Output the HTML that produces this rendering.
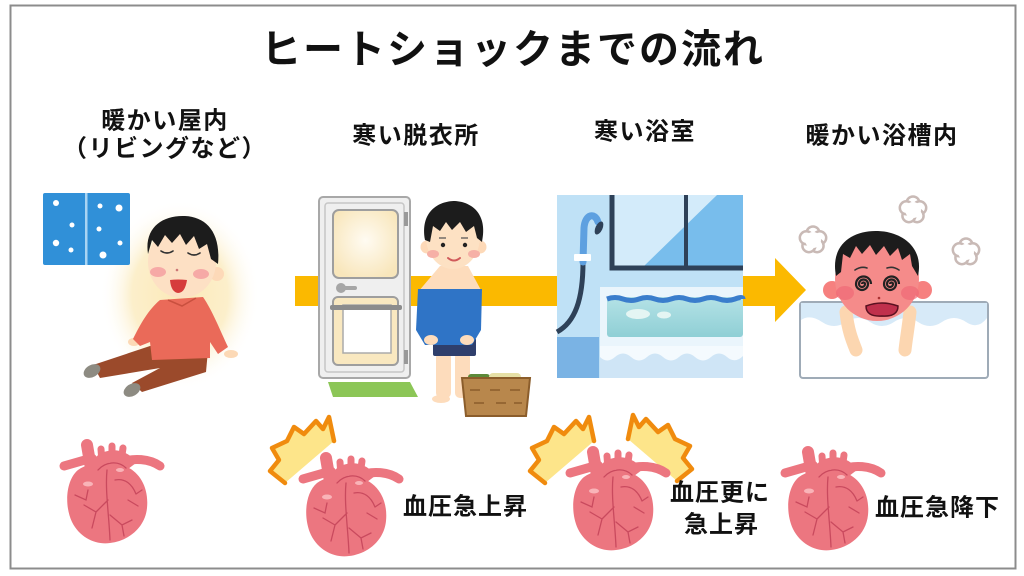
<!DOCTYPE html>
<html lang="ja">
<head>
<meta charset="utf-8">
<style>
  html, body { margin:0; padding:0; background:#fff; }
  svg { display:block; }
  .t { font-family:"Liberation Sans","Noto Sans CJK JP",sans-serif; font-weight:700; fill:#111; }
</style>
</head>
<body>
<svg width="1024" height="576" viewBox="0 0 1024 576" xmlns="http://www.w3.org/2000/svg">
  <defs>
    <radialGradient id="glow" cx="50%" cy="50%" r="50%">
      <stop offset="0" stop-color="#fbe9b8"/>
      <stop offset="0.6" stop-color="#fcefcb"/>
      <stop offset="1" stop-color="#ffffff" stop-opacity="0"/>
    </radialGradient>
    <radialGradient id="cream" cx="50%" cy="45%" r="60%">
      <stop offset="0" stop-color="#fffbf2"/>
      <stop offset="1" stop-color="#f8e6bb"/>
    </radialGradient>
    <linearGradient id="water" x1="0" y1="0" x2="0" y2="1">
      <stop offset="0" stop-color="#b4e2e6"/>
      <stop offset="1" stop-color="#8fcfd5"/>
    </linearGradient>
    <g id="heart">
      <path d="M64 466 L92 458" stroke="#ec7680" stroke-width="9" stroke-linecap="round" fill="none"/>
      <path d="M118 463 C134 457 150 459 160 466" stroke="#ec7680" stroke-width="9" stroke-linecap="round" fill="none"/>
      <path d="M87 445 L93 480" stroke="#ec7680" stroke-width="12" stroke-linecap="round" fill="none"/>
      <path d="M101 449 L102 463 M112 446 L112 460 M123 448 L121 462" stroke="#ec7680" stroke-width="7" stroke-linecap="round" fill="none"/>
      <path d="M93 472 C98 455 120 450 132 466" stroke="#ec7680" stroke-width="12" fill="none"/>
      <path d="M78 470 C66 480 64 505 72 522 C80 538 96 545 110 543 C128 541 145 528 147 508 C149 488 140 472 125 466 C112 462 92 460 78 470 Z" fill="#ec7680"/>
      <path d="M107 470 C105 490 109 515 110 540 M108 500 L96 512 M96 512 L84 505 M96 512 L92 528 M75 495 L86 500 L88 490 M110 515 L122 525 L132 520 M122 525 L124 536 M115 480 C125 478 132 484 136 494 M136 494 L142 490 M128 500 L138 506 M98 470 C105 462 118 460 126 468"
            stroke="#c94a5e" stroke-width="1.3" fill="none" stroke-linecap="round"/>
      <ellipse cx="88" cy="484" rx="5" ry="2.5" fill="#f9b4b8"/>
      <ellipse cx="120" cy="470" rx="4" ry="2" fill="#f9b4b8"/>
    </g>
    <g id="burst">
      <path d="M285 483 L270 471 L279 460 L272 448 L287 441 L294 427 L304 434 L316 421 L323 429 L329 417 L334 441 Z" fill="#fde58a"/>
      <path d="M285 483 L270 471 L279 460 L272 448 L287 441 L294 427 L304 434 L316 421 L323 429 L329 417 L334 441" fill="none" stroke="#f08b0e" stroke-width="4.5" stroke-linejoin="round" stroke-linecap="round"/>
    </g>
    <g id="cloud">
      <circle cx="0" cy="-7" r="6.5" fill="#fff" stroke="#c9bab6" stroke-width="2.5"/>
      <circle cx="6.7" cy="-2.2" r="6.5" fill="#fff" stroke="#c9bab6" stroke-width="2.5"/>
      <circle cx="4.1" cy="5.7" r="6.5" fill="#fff" stroke="#c9bab6" stroke-width="2.5"/>
      <circle cx="-4.1" cy="5.7" r="6.5" fill="#fff" stroke="#c9bab6" stroke-width="2.5"/>
      <circle cx="-6.7" cy="-2.2" r="6.5" fill="#fff" stroke="#c9bab6" stroke-width="2.5"/>
      <circle cx="0" cy="0" r="8" fill="#fff"/>
    </g>
  </defs>

  <!-- frame -->
  <rect x="0" y="0" width="1024" height="576" fill="#fff"/>
  <rect x="10.5" y="5.5" width="1005" height="563" fill="#fff" stroke="#8c8c8c" stroke-width="2"/>

  <!-- title -->
  <text class="t" x="513" y="50" font-size="40" letter-spacing="2" text-anchor="middle" dominant-baseline="central">ヒートショックまでの流れ</text>

  <!-- labels -->
  <text class="t" x="165" y="121" font-size="24" letter-spacing="1.5" text-anchor="middle" dominant-baseline="central">暖かい屋内</text>
  <text class="t" x="165" y="149" font-size="24" letter-spacing="1.5" text-anchor="middle" dominant-baseline="central">（リビングなど）</text>
  <text class="t" x="416" y="136" font-size="24" letter-spacing="1.5" text-anchor="middle" dominant-baseline="central">寒い脱衣所</text>
  <text class="t" x="645" y="132" font-size="24" letter-spacing="1.5" text-anchor="middle" dominant-baseline="central">寒い浴室</text>
  <text class="t" x="882" y="136" font-size="24" letter-spacing="1.5" text-anchor="middle" dominant-baseline="central">暖かい浴槽内</text>

  <!-- yellow arrow -->
  <rect x="295" y="276" width="481" height="30" fill="#fbb900"/>
  <polygon points="775,258 806,290 775,322" fill="#fbb900"/>

  <!-- ===== Scene 1 ===== -->
  <ellipse cx="180" cy="295" rx="80" ry="95" fill="url(#glow)"/>
  <rect x="43" y="193" width="87" height="72" rx="2" fill="#3090d8"/>
  <rect x="85" y="193" width="2.5" height="72" fill="#a8d4f3"/>
  <g fill="#fff">
    <circle cx="56" cy="203" r="3"/><circle cx="72" cy="225" r="2.5"/><circle cx="56" cy="243" r="3.2"/><circle cx="71" cy="250" r="2.5"/>
    <circle cx="100" cy="206" r="2.5"/><circle cx="119" cy="208" r="3.5"/><circle cx="99" cy="229" r="2.5"/><circle cx="120" cy="243" r="2.5"/><circle cx="103" cy="255" r="3.5"/>
  </g>
  <!-- boy 1 pants -->
  <path d="M150 346 L208 350 L206 372 L142 392 L132 383 L160 368 L100 378 L93 365 Z" fill="#9b4a2b"/>
  <ellipse cx="92" cy="371" rx="9" ry="6" transform="rotate(-30 92 371)" fill="#8d8b82"/>
  <ellipse cx="132" cy="390" rx="9" ry="6" transform="rotate(-30 132 390)" fill="#8d8b82"/>
  <!-- shirt -->
  <ellipse cx="134" cy="342" rx="6" ry="4" fill="#fcd9b6"/>
  <ellipse cx="231" cy="354" rx="7" ry="4" fill="#fcd9b6"/>
  <path d="M160 300 L203 297 C212 310 220 330 228 347 L218 354 L210 342 L210 358 L152 360 L150 342 L140 346 L133 339 C140 325 148 310 160 300 Z" fill="#ea6a59"/>
  <path d="M168 300 L182 306 L196 298" stroke="#c9503f" stroke-width="1.5" fill="none"/>
  <!-- head -->
  <circle cx="217" cy="274" r="7" fill="#fdd9b8"/>
  <ellipse cx="182" cy="262" rx="34" ry="36" fill="#fde0c4"/>
  <path d="M148 254 C144 228 162 215 185 216 C206 217 221 232 218 264 L211 259 L207 244 L199 249 L194 236 L186 245 L180 234 L172 243 L165 235 L158 247 L152 240 Z" fill="#1c1c1c"/>
  <ellipse cx="158" cy="272" rx="8" ry="5" fill="#f6a9a6"/>
  <ellipse cx="201" cy="274" rx="8" ry="5" fill="#f6a9a6"/>
  <path d="M161 251 Q167 255 173 251 M188 253 Q194 257 200 253" stroke="#333" stroke-width="1.6" fill="none" stroke-linecap="round"/>
  <circle cx="177" cy="270" r="1.3" fill="#c77"/>
  <path d="M170 280 Q178 279 187 280 Q185 293 178 293 Q171 292 170 280 Z" fill="#d63c3c"/>

  <!-- ===== Scene 2 ===== -->
  <rect x="319" y="197" width="91" height="181" rx="4" fill="#efefef" stroke="#a8a8a8" stroke-width="2"/>
  <rect x="325" y="203" width="79" height="169" rx="3" fill="none" stroke="#c6c6c6" stroke-width="1.5"/>
  <rect x="333" y="210" width="65" height="68" rx="6" fill="url(#cream)" stroke="#9e9e9e" stroke-width="2"/>
  <rect x="333" y="297" width="65" height="68" rx="5" fill="#f9e8c0" stroke="#9e9e9e" stroke-width="2"/>
  <circle cx="341" cy="288" r="5" fill="#a6a6a6"/>
  <rect x="341" y="286" width="16" height="4" rx="2" fill="#a6a6a6"/>
  <rect x="404" y="212" width="4" height="14" fill="#999"/>
  <rect x="404" y="350" width="4" height="14" fill="#999"/>
  <rect x="343" y="305" width="48" height="48" fill="#fff" stroke="#aaa" stroke-width="1.5"/>
  <rect x="330" y="305" width="72" height="5" rx="2" fill="#8c8c8c"/>
  <polygon points="328,382 410,382 418,397 333,397" fill="#8cc657"/>
  <!-- boy 2 legs -->
  <rect x="436" y="352" width="15" height="46" rx="5" fill="#fddcbc"/>
  <rect x="455" y="352" width="15" height="46" rx="5" fill="#fddcbc"/>
  <ellipse cx="441" cy="399" rx="9" ry="4" fill="#fddcbc"/>
  <rect x="433" y="338" width="43" height="18" rx="2" fill="#2f3f6c"/>
  <!-- shoulders -->
  <path d="M440 266 L468 266 L482 292 L418 292 Z" fill="#fddcbc"/>
  <path d="M418 289 L482 289 L481 330 L472 345 L425 345 L416 330 Z" fill="#2f74c6"/>
  <ellipse cx="431" cy="340" rx="7" ry="5" fill="#fddcbc"/>
  <ellipse cx="467" cy="340" rx="7" ry="5" fill="#fddcbc"/>
  <!-- head -->
  <circle cx="427" cy="247" r="6.5" fill="#fdd9b8"/>
  <circle cx="480" cy="247" r="6.5" fill="#fdd9b8"/>
  <ellipse cx="453" cy="237" rx="27" ry="32" fill="#fde1c3"/>
  <path d="M425 240 C420 212 438 201 455 201 C472 202 488 214 482 242 L477 238 L474 226 L466 232 L460 222 L452 230 L446 222 L440 231 L433 226 L430 242 Z" fill="#1c1c1c"/>
  <ellipse cx="433" cy="254" rx="6" ry="4" fill="#f6b0a6"/>
  <ellipse cx="474" cy="254" rx="6" ry="4" fill="#f6b0a6"/>
  <circle cx="443" cy="245" r="2.2" fill="#222"/>
  <circle cx="465" cy="245" r="2.2" fill="#222"/>
  <path d="M439 238 L446 238 M461 238 L468 238" stroke="#555" stroke-width="1.3"/>
  <path d="M448 258 Q454 263 460 258" stroke="#d05a5a" stroke-width="2" fill="none" stroke-linecap="round"/>
  <!-- basket -->
  <rect x="468" y="374" width="22" height="8" rx="3" fill="#5c8a3a"/>
  <rect x="489" y="373" width="32" height="9" rx="4" fill="#e6e0a6"/>
  <path d="M462 378 L530 378 L526 416 L466 416 Z" fill="#b8874c" stroke="#8b5d2b" stroke-width="2"/>
  <path d="M470 390 L480 390 M490 390 L500 390 M510 390 L520 390 M474 403 L484 403 M496 403 L506 403 M514 403 L522 403" stroke="#8b5d2b" stroke-width="1.5"/>

  <!-- ===== Scene 3 ===== -->
  <rect x="557" y="195" width="186" height="183" fill="#bfe1f6"/>
  <rect x="612" y="195" width="131" height="72" fill="#d3ebfa"/>
  <polygon points="717,195 743,195 743,267 643,267" fill="#78bdec"/>
  <path d="M612 195 L612 268 L743 268" stroke="#2e4158" stroke-width="5" fill="none"/>
  <path d="M686 195 L686 268" stroke="#2e4158" stroke-width="4"/>
  <rect x="557" y="337" width="42" height="41" fill="#7ab3e4"/>
  <rect x="600" y="287" width="143" height="91" fill="#eaf5fc"/>
  <rect x="607" y="297" width="136" height="40" rx="3" fill="url(#water)"/>
  <path d="M607 299 Q615 296 623 299 T639 299 T655 299 T671 299 T687 299 T703 299 T719 299 T735 299 T743 299" stroke="#3a7dcc" stroke-width="5" fill="none"/>
  <ellipse cx="638" cy="314" rx="12" ry="5" fill="#e4f5f3"/>
  <ellipse cx="664" cy="315" rx="7" ry="3.5" fill="#e4f5f3"/>
  <rect x="600" y="346" width="143" height="32" fill="#cfe5f6"/>
  <path d="M600 346 L743 346 L743 356 Q735 364 727 357 Q719 350 711 357 Q703 364 695 357 Q687 350 679 357 Q671 364 663 357 Q655 350 647 357 Q639 364 631 357 Q623 350 615 357 Q607 364 600 357 Z" fill="#f4fafe"/>
  <path d="M583 262 C583 300 575 322 557 332" stroke="#2e4158" stroke-width="5" fill="none"/>
  <path d="M583 262 L584 228 C585 214 595 212 598 222" stroke="#5ea0e0" stroke-width="7" fill="none" stroke-linecap="round"/>
  <ellipse cx="599" cy="228" rx="3.5" ry="7" transform="rotate(25 599 228)" fill="#2e4158"/>
  <rect x="574" y="254" width="17" height="7" rx="1" fill="#fff"/>

  <!-- ===== Scene 4 ===== -->
  <use href="#cloud" transform="translate(813,240)"/>
  <use href="#cloud" transform="translate(913,210)"/>
  <use href="#cloud" transform="translate(966,252)"/>
  <rect x="800" y="302" width="188" height="76" rx="3" fill="#fff" stroke="#9fabb7" stroke-width="2"/>
  <path d="M801 303 L987 303 L987 318 Q978 330 966 322 Q954 314 942 322 Q930 330 918 322 Q906 314 894 322 Q882 330 870 322 Q858 314 846 322 Q834 330 822 322 Q810 314 801 320 Z" fill="#d7eaf8"/>
  <!-- arms -->
  <path d="M846 312 C848 330 852 340 856 350" stroke="#fcd6b0" stroke-width="13" fill="none" stroke-linecap="round"/>
  <path d="M910 312 C908 330 906 340 905 350" stroke="#fcd6b0" stroke-width="13" fill="none" stroke-linecap="round"/>
  <!-- head -->
  <circle cx="832" cy="290" r="9" fill="#f6807f"/>
  <circle cx="923" cy="290" r="9" fill="#f6807f"/>
  <ellipse cx="877" cy="279" rx="42" ry="42" fill="#f58b8a"/>
  <path d="M836 276 C830 245 852 230 878 231 C903 232 924 248 918 276 L912 266 L910 254 L902 260 L898 248 L890 256 L884 246 L876 255 L870 245 L862 254 L856 246 L850 258 L843 254 L841 272 Z" fill="#1c1c1c"/>
  <ellipse cx="845" cy="293" rx="9" ry="7" fill="#ef6a76" opacity="0.7"/>
  <ellipse cx="910" cy="293" rx="9" ry="7" fill="#ef6a76" opacity="0.7"/>
  <path d="M855 270 Q861 266 867 268 M887 268 Q893 266 899 270" stroke="#333" stroke-width="1.6" fill="none" stroke-linecap="round"/>
  <path d="M862 284 a1.5 1.5 0 0 1 3 0 a3 3 0 0 1 -6 0 a4.5 4.5 0 0 1 9 0 a6 6 0 0 1 -12 0 a7.5 7.5 0 0 1 15 0" stroke="#222" stroke-width="2.2" fill="none"/>
  <path d="M890 284 a1.5 1.5 0 0 1 3 0 a3 3 0 0 1 -6 0 a4.5 4.5 0 0 1 9 0 a6 6 0 0 1 -12 0 a7.5 7.5 0 0 1 15 0" stroke="#222" stroke-width="2.2" fill="none"/>
  <circle cx="879" cy="298" r="1.3" fill="#a33"/>
  <path d="M866 306 Q882 300 898 306 Q898 317 882 316 Q866 317 866 306 Z" fill="#c0304c" stroke="#5a1020" stroke-width="1.5"/>

  <!-- ===== Hearts & bursts ===== -->
  <use href="#heart"/>
  <use href="#burst"/>
  <use href="#heart" transform="translate(239,13)"/>
  <use href="#burst" transform="translate(260,0)"/>
  <use href="#burst" transform="translate(962,-2) scale(-1,1)"/>
  <use href="#heart" transform="translate(506,7)"/>
  <use href="#heart" transform="translate(721,7)"/>

  <text class="t" x="403" y="507" font-size="24" letter-spacing="1" dominant-baseline="central">血圧急上昇</text>
  <text class="t" x="670" y="493" font-size="24" letter-spacing="1" dominant-baseline="central">血圧更に</text>
  <text class="t" x="684" y="525" font-size="24" letter-spacing="1" dominant-baseline="central">急上昇</text>
  <text class="t" x="875" y="508" font-size="24" letter-spacing="1" dominant-baseline="central">血圧急降下</text>
</svg>
</body>
</html>
